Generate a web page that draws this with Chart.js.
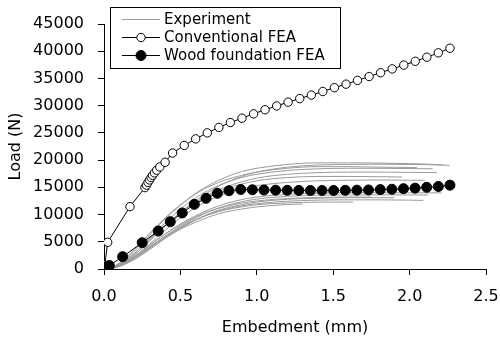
<!DOCTYPE html>
<html><head><meta charset="utf-8">
<script src="https://cdn.jsdelivr.net/npm/chart.js@4"></script>
<style>html,body{margin:0;padding:0;background:#fff}#wrap{width:500px;height:341px;position:relative}</style>
</head><body><div id="wrap"><canvas id="c" width="500" height="341"></canvas></div>
<script>
// ---- data ----
const seriesNames = ['Experiment', 'Conventional FEA', 'Wood foundation FEA'];
const xTicks = [0, 0.5, 1.0, 1.5, 2.0, 2.5];
const yTicks = [0, 5000, 10000, 15000, 20000, 25000, 30000, 35000, 40000, 45000];

const convEmbed = [0, 0.005, 0.024, 0.17, 0.268, 0.278, 0.288, 0.298, 0.308, 0.318, 0.33, 0.345, 0.365, 0.40,
  0.449, 0.525, 0.600, 0.676, 0.752, 0.827, 0.903, 0.979, 1.054, 1.130, 1.205, 1.281, 1.357, 1.432, 1.508,
  1.584, 1.659, 1.735, 1.810, 1.886, 1.962, 2.037, 2.113, 2.188, 2.264];
const convLoad = [0, 700, 4900, 11450, 14950, 15400, 15900, 16350, 16800, 17200, 17650, 18150, 18750, 19600,
  21300, 22700, 23900, 25000, 26000, 26900, 27700, 28500, 29250, 29950, 30650, 31300, 31950, 32600, 33300,
  33950, 34650, 35350, 36050, 36750, 37450, 38150, 38900, 39700, 40550];

const woodEmbed = [0, 0.01, 0.02, 0.035, 0.122, 0.25, 0.355, 0.434, 0.512, 0.591, 0.668, 0.742, 0.818, 0.895,
  0.971, 1.047, 1.123, 1.199, 1.275, 1.351, 1.427, 1.503, 1.579, 1.655, 1.731, 1.808, 1.884, 1.960, 2.036,
  2.112, 2.188, 2.264];
const woodLoad = [0, 250, 450, 650, 2260, 4830, 6980, 8690, 10290, 11880, 12980, 13900, 14380, 14600,
  14550, 14500, 14480, 14450, 14430, 14420, 14420, 14430, 14450, 14480, 14520, 14580, 14650, 14750, 14850,
  15000, 15150, 15400];

// experiment specimens: loads on a shared embedment grid; the last value sits at the specimen's final embedment
const expGrid = [0, 0.05, 0.1, 0.2, 0.3, 0.4, 0.5, 0.6, 0.7, 0.8, 0.9, 1.0, 1.2, 1.4, 1.6, 1.8, 2.0, 2.2];
const expEnd = [2.26, 2.22, 2.05, 2.15, 2.18, 1.95, 2.10, 2.21, 2.12, 1.75, 2.09, 1.63, 1.30, 1.90];
const exp1 = [0, 250, 950, 3300, 6300, 9200, 11700, 13900, 15600, 16900, 17900, 18500, 19200, 19500, 19500, 19450, 19350, 19150, 19000];
const exp2 = [0, 200, 700, 2600, 5200, 7900, 10400, 12600, 14400, 15900, 17000, 17800, 18700, 19100, 19200, 19250, 19200, 19100, 19050];
const exp3 = [0, 300, 1100, 3600, 6600, 9400, 11800, 13800, 15300, 16400, 17200, 17800, 18500, 18800, 18800, 18700, 18650, 18600];
const exp4 = [0, 200, 800, 2900, 5700, 8500, 11000, 13100, 14700, 15900, 16800, 17400, 18100, 18400, 18500, 18500, 18450, 18400];
const exp5 = [0, 180, 700, 2600, 5200, 7900, 10300, 12300, 13900, 15100, 16000, 16700, 17400, 17700, 17800, 17800, 17750, 17700];
const exp6 = [0, 220, 850, 2900, 5500, 8000, 10300, 12200, 13700, 14800, 15600, 16200, 16800, 17000, 17000, 16950, 16900];
const exp7 = [0, 150, 600, 2300, 4600, 7100, 9400, 11300, 12800, 13900, 14700, 15300, 15900, 16200, 16300, 16350, 16300, 16300];
const exp8 = [0, 170, 630, 2240, 4340, 6440, 8260, 9800, 11060, 12040, 12740, 13230, 13720, 13930, 14000, 14000, 14000, 13980, 13950];
const exp9 = [0, 140, 540, 2000, 4000, 6000, 7850, 9400, 10700, 11650, 12350, 12850, 13350, 13550, 13600, 13620, 13600, 13600];
const exp10 = [0, 180, 650, 2300, 4400, 6400, 8100, 9600, 10700, 11500, 12100, 12500, 12950, 13150, 13200, 13200];
const exp11 = [0, 130, 500, 1900, 3800, 5800, 7600, 9000, 10200, 11000, 11600, 12000, 12450, 12650, 12700, 12700, 12650, 12600];
const exp12 = [0, 170, 620, 2200, 4100, 6000, 7700, 9100, 10100, 10900, 11400, 11800, 12150, 12280, 12300, 12300];
const exp13 = [0, 150, 560, 2000, 3900, 5700, 7300, 8600, 9700, 10500, 11000, 11400, 11850, 11950];
const exp14 = [0, 110, 450, 1750, 3600, 5600, 7450, 9000, 10300, 11200, 11800, 12300, 12800, 13000, 13100, 13100, 13100];
const expCurves = [exp1, exp2, exp3, exp4, exp5, exp6, exp7, exp8, exp9, exp10, exp11, exp12, exp13, exp14];

// ---- build ----
const FONT = 'DejaVu Sans';
const GRAY = '#9a9a9a';
const toPts = (xs, ys) => xs.map((x, i) => ({x: x, y: ys[i]}));
const expPts = (loads, endX) => loads.map((y, i) => ({x: i === loads.length - 1 ? endX : expGrid[i], y: y}));

const datasets = [
  {label: seriesNames[2], data: toPts(woodEmbed, woodLoad), showLine: true, borderColor: '#000', borderWidth: 1,
   pointRadius: 5, pointBackgroundColor: '#000', pointBorderColor: '#000', pointBorderWidth: 1, order: 0},
  {label: seriesNames[1], data: toPts(convEmbed, convLoad), showLine: true, borderColor: '#000', borderWidth: 1,
   pointRadius: 4.2, pointBackgroundColor: '#fff', pointBorderColor: '#000', pointBorderWidth: 1, order: 1}
].concat(expCurves.map((c, i) => ({
  label: seriesNames[0], data: expPts(c, expEnd[i]), showLine: true, borderColor: GRAY, borderWidth: 1,
  pointRadius: 0, cubicInterpolationMode: 'monotone', order: 2
})));

const boxLegend = {
  id: 'boxLegend',
  afterDraw(chart) {
    const ctx = chart.ctx;
    ctx.save();
    ctx.fillStyle = '#fff';
    ctx.fillRect(110.5, 7.5, 230, 61);
    ctx.strokeStyle = '#000';
    ctx.lineWidth = 1;
    ctx.strokeRect(110.5, 7.5, 230, 61);
    const rows = [19.5, 37.5, 55.5];
    const styles = [{color: GRAY, marker: null}, {color: '#000', marker: 'open'}, {color: '#000', marker: 'filled'}];
    ctx.font = '15px "' + FONT + '"';
    ctx.textBaseline = 'middle';
    ctx.textAlign = 'left';
    rows.forEach((y, i) => {
      const s = styles[i];
      ctx.beginPath();
      ctx.strokeStyle = s.color;
      ctx.moveTo(122, y); ctx.lineTo(160, y);
      ctx.stroke();
      if (s.marker) {
        ctx.beginPath();
        ctx.arc(141, y, s.marker === 'open' ? 4.2 : 5, 0, Math.PI * 2);
        ctx.fillStyle = s.marker === 'open' ? '#fff' : '#000';
        ctx.fill();
        ctx.strokeStyle = '#000';
        ctx.stroke();
      }
      ctx.fillStyle = '#000';
      ctx.fillText(seriesNames[i], 164, y + 0.5);
    });
    ctx.restore();
  }
};

new Chart(document.getElementById('c'), {
  type: 'scatter',
  data: {datasets: datasets},
  plugins: [boxLegend],
  options: {
    responsive: false,
    animation: false,
    events: [],
    layout: {padding: {top: 24, right: 14, left: 0, bottom: 0}},
    plugins: {legend: {display: false}, tooltip: {enabled: false}},
    scales: {
      x: {
        type: 'linear', min: 0, max: 2.5,
        afterBuildTicks: s => { s.ticks = xTicks.map(v => ({value: v})); },
        afterFit: s => { s.height = 72; s.paddingRight = 14; s.paddingLeft = 0; },
        ticks: {callback: v => Number(v).toFixed(1), color: '#000', font: {family: FONT, size: 16}, padding: 12, maxRotation: 0, autoSkip: false},
        grid: {drawOnChartArea: false, drawTicks: true, tickLength: 6, color: '#000', lineWidth: 1},
        border: {display: true, color: '#000', width: 1},
        title: {display: true, text: 'Embedment (mm)', color: '#000', font: {family: FONT, size: 16}, padding: {top: 4, bottom: 4}}
      },
      y: {
        type: 'linear', min: 0, max: 45000,
        afterBuildTicks: s => { s.ticks = yTicks.map(v => ({value: v})); },
        afterFit: s => { s.width = 104; },
        ticks: {callback: v => String(v), color: '#000', font: {family: FONT, size: 16}, padding: 14, autoSkip: false},
        grid: {drawOnChartArea: false, drawTicks: true, tickLength: 6, color: '#000', lineWidth: 1},
        border: {display: true, color: '#000', width: 1},
        title: {display: true, text: 'Load (N)', color: '#000', font: {family: FONT, size: 16}, padding: {top: 6, bottom: 4}}
      }
    }
  }
});
</script></body></html>
